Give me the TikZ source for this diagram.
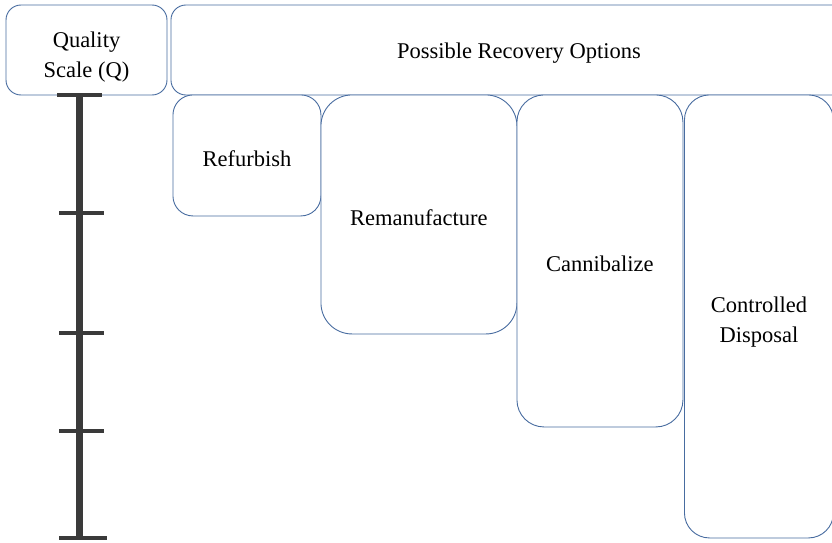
\documentclass[tikz,border=0pt]{standalone}
\usepackage{fontspec}
\setmainfont{Liberation Serif}
\definecolor{boxline}{RGB}{72,108,160}
\definecolor{barcol}{RGB}{58,58,58}
\tikzset{
  boxtext/.style={align=center, inner sep=0pt, yshift=-3pt,
    font=\fontsize{22.5}{30}\selectfont},
  optbox/.style={draw=boxline, line width=0.9pt, fill=white, inner sep=0pt},
  boxlabel/.style={label={[boxtext]center:{#1}}},
  scalebar/.style={draw=barcol, line width=7pt},
  scaletick/.style={draw=barcol, line width=4pt}
}

\begin{document}
\begin{tikzpicture}[x=1pt,y=1pt,yscale=-1,xscale=1]
\useasboundingbox (0,0) rectangle (832,543);
\clip (0,0) rectangle (832,543);

%Shape: header boxes
\node[optbox, label={[boxtext, yshift=-4pt]center:{Quality\\Scale (Q)}}, minimum width=161, minimum height=90, rounded corners=15] (quality) at (86.5,50) {};
\node[optbox, boxlabel={Possible Recovery Options}, minimum width=696, minimum height=90, rounded corners=15, anchor=west] (options) at (170.5,50) {};

%Shape: recovery option boxes
\node[optbox, boxlabel={Refurbish}, minimum width=148, minimum height=121, rounded corners=20, anchor=north west] (refurbish) at (172.5,94.5) {};
\node[optbox, boxlabel={Remanufacture}, minimum width=196, minimum height=239, rounded corners=31, anchor=north west] (reman) at (320.5,94.5) {};
\node[optbox, boxlabel={Cannibalize}, minimum width=166, minimum height=332, rounded corners=27, anchor=north west] (cannibal) at (516.5,94.5) {};
\node[optbox, label={[boxtext, yshift=-3pt]center:{Controlled\\Disposal}}, minimum width=149, minimum height=443, rounded corners=25, anchor=north west] (disposal) at (684,94.5) {};

%Straight Lines: quality scale
\coordinate (qtop) at (79.5,95);
\coordinate (qbot) at (79.5,537.5);
\draw[scalebar] (qtop) -- (qbot);
\draw[scaletick] (57,95) -- (102,95);
\foreach \ty in {212.5,333,430.5}
  \draw[scaletick] (59,\ty) -- (104,\ty);
\draw[scaletick] (59,537.5) -- (107,537.5);

\end{tikzpicture}
\end{document}
